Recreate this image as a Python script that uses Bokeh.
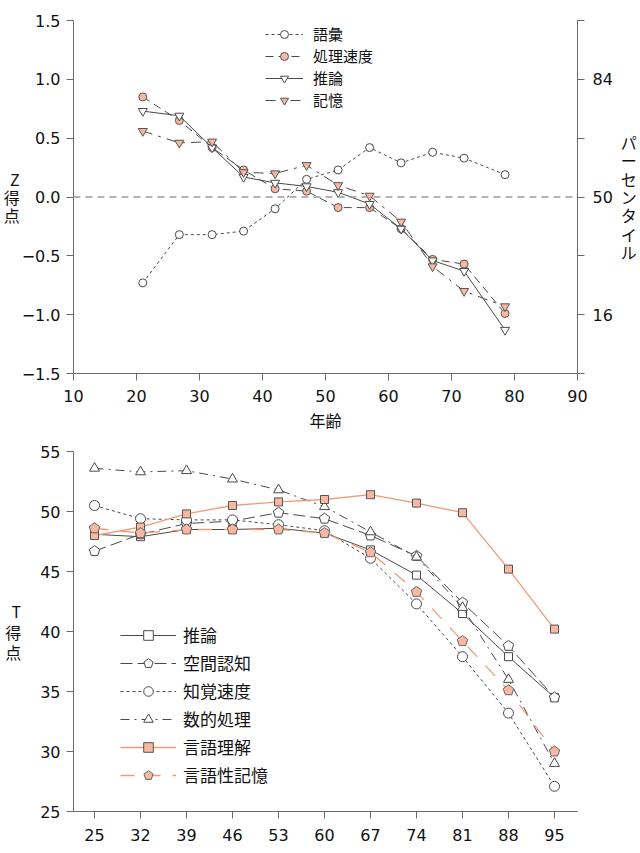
from bokeh.plotting import figure
from bokeh.models import (Range1d, LinearAxis, FixedTicker, Span, Legend, LegendItem)
from bokeh.layouts import column
from bokeh.embed import file_html
from bokeh.resources import INLINE

# ---------------- data: top chart (Z scores) ----------------
ages_top = [21, 26.8, 32, 37, 42, 47, 52, 57, 62, 67, 72, 78.5]
vocab = [-0.73, -0.32, -0.32, -0.29, -0.10, 0.15, 0.23, 0.42, 0.29, 0.38, 0.33, 0.19]
speed = [0.85, 0.65, 0.42, 0.23, 0.07, 0.05, -0.09, -0.09, -0.27, -0.53, -0.57, -0.99]
reason_top = [0.73, 0.69, 0.42, 0.17, 0.12, 0.09, 0.04, -0.06, -0.27, -0.54, -0.63, -1.13]
memory = [0.56, 0.46, 0.47, 0.21, 0.20, 0.27, 0.10, 0.01, -0.21, -0.59, -0.80, -0.93]
top_series_names = ["語彙", "処理速度", "推論", "記憶"]
z_ticks = [-1.5, -1.0, -0.5, 0.0, 0.5, 1.0, 1.5]
z_tick_labels = ["−1.5", "−1.0", "−0.5", "0.0", "0.5", "1.0", "1.5"]
pct_ticks = [-1.5, -1.0, -0.5, 0.0, 0.5, 1.0, 1.5]
pct_tick_labels = ["", "16", "", "50", "", "84", ""]
age_ticks_top = [10, 20, 30, 40, 50, 60, 70, 80, 90]

# ---------------- data: bottom chart (T scores) ----------------
ages_bot = [25, 32, 39, 46, 53, 60, 67, 74, 81, 88, 95]
reasoning = [48.1, 47.9, 48.5, 48.5, 48.6, 48.2, 46.8, 44.7, 41.5, 37.9, 34.5]
spatial = [46.7, 48.1, 49.0, 49.2, 49.9, 49.4, 48.0, 46.3, 42.4, 38.8, 34.5]
perceptual = [50.5, 49.4, 49.3, 49.3, 48.9, 48.4, 46.1, 42.3, 37.9, 33.2, 27.1]
numeric = [53.6, 53.3, 53.4, 52.7, 51.8, 50.4, 48.3, 46.2, 42.0, 36.0, 29.0]
verbal = [48.0, 48.7, 49.8, 50.5, 50.8, 51.0, 51.4, 50.7, 49.9, 45.2, 40.2]
verbal_memory = [48.6, 48.2, 48.5, 48.5, 48.5, 48.2, 46.6, 43.3, 39.2, 35.1, 30.0]
bot_series_names = ["推論", "空間認知", "知覚速度", "数的処理", "言語理解", "言語性記憶"]
t_ticks = [25, 30, 35, 40, 45, 50, 55]

DARK = "#4a4a4a"
AXIS = "#6a6a6a"
SALMON_FILL = "#f6b8a0"
SALMON_LINE = "#f09a78"
NUM_FONT = "DejaVu Sans"
JP_FONT = "Noto Sans CJK JP"


def style_axis(ax, size="16px"):
    ax.axis_line_color = AXIS
    ax.major_tick_line_color = AXIS
    ax.minor_tick_line_color = None
    ax.major_tick_out = 7
    ax.major_tick_in = 0
    ax.major_label_text_font = NUM_FONT
    ax.major_label_text_font_size = size
    ax.major_label_text_color = "#111111"


def stacked_label(ax, text, standoff, line_height):
    ax.axis_label_text_font = JP_FONT
    ax.axis_label_text_font_style = "normal"
    ax.axis_label_text_font_size = "16px"
    ax.axis_label_text_color = "#111111"
    try:
        ax.axis_label_orientation = "horizontal"
        ax.axis_label = text
        ax.axis_label_text_line_height = line_height
    except AttributeError:
        ax.axis_label = text.replace("\n", "")
    ax.axis_label_standoff = standoff


# ======================= TOP FIGURE =======================
p1 = figure(width=640, height=434, output_backend="svg", toolbar_location=None,
            x_range=Range1d(10, 90), y_range=Range1d(-1.5, 1.5),
            min_border_left=73, min_border_right=63, min_border_top=20, min_border_bottom=60)
p1.outline_line_color = None
p1.grid.visible = False
p1.background_fill_color = "white"

style_axis(p1.xaxis[0])
p1.xaxis[0].ticker = FixedTicker(ticks=age_ticks_top)
p1.xaxis[0].major_label_standoff = 9
p1.xaxis[0].axis_label = "年齢"
p1.xaxis[0].axis_label_text_font = JP_FONT
p1.xaxis[0].axis_label_text_font_style = "normal"
p1.xaxis[0].axis_label_text_font_size = "16px"
p1.xaxis[0].axis_label_text_color = "#111111"
p1.xaxis[0].axis_label_standoff = 3

style_axis(p1.yaxis[0])
p1.yaxis[0].ticker = FixedTicker(ticks=z_ticks)
p1.yaxis[0].major_label_overrides = {t: s for t, s in zip(z_ticks, z_tick_labels)}
p1.yaxis[0].major_label_standoff = 6
stacked_label(p1.yaxis[0], "Z\n得\n点", -1, 0.74)

rax = LinearAxis(ticker=FixedTicker(ticks=pct_ticks))
style_axis(rax)
rax.major_label_overrides = {t: s for t, s in zip(pct_ticks, pct_tick_labels)}
rax.major_label_standoff = 8
stacked_label(rax, "パ\nー\nセ\nン\nタ\nイ\nル", 5, 0.77)
p1.add_layout(rax, "right")

p1.add_layout(Span(location=0, dimension="width", line_color="#9a9a9a",
                   line_dash="7 5", line_width=1.6))

r_vocab_l = p1.line(ages_top, vocab, line_color=DARK, line_width=1, line_dash="3 3")
r_vocab_m = p1.scatter(ages_top, vocab, marker="circle", size=8, fill_color="white",
                       line_color=DARK, line_width=1)
r_speed_l = p1.line(ages_top, speed, line_color=DARK, line_width=1, line_dash="8 5")
r_speed_m = p1.scatter(ages_top, speed, marker="circle", size=8, fill_color=SALMON_FILL,
                       line_color="#555555", line_width=1)
r_reas_l = p1.line(ages_top, reason_top, line_color=DARK, line_width=1)
r_reas_m = p1.scatter(ages_top, reason_top, marker="inverted_triangle", size=9,
                      fill_color="white", line_color=DARK, line_width=1)
r_mem_l = p1.line(ages_top, memory, line_color=DARK, line_width=1, line_dash="10 6 3 6")
r_mem_m = p1.scatter(ages_top, memory, marker="inverted_triangle", size=9,
                     fill_color=SALMON_FILL, line_color="#555555", line_width=1)

leg1 = Legend(items=[
    LegendItem(label=top_series_names[0], renderers=[r_vocab_l, r_vocab_m]),
    LegendItem(label=top_series_names[1], renderers=[r_speed_l, r_speed_m]),
    LegendItem(label=top_series_names[2], renderers=[r_reas_l, r_reas_m]),
    LegendItem(label=top_series_names[3], renderers=[r_mem_l, r_mem_m]),
], location=(192, 263), orientation="vertical")
leg1.background_fill_alpha = 0
leg1.border_line_color = None
leg1.padding = 0
leg1.margin = 0
leg1.spacing = 1
leg1.glyph_width = 38
leg1.glyph_height = 20
leg1.label_height = 20
leg1.label_standoff = 10
leg1.label_text_font = JP_FONT
leg1.label_text_font_size = "15px"
leg1.label_text_color = "#111111"
p1.add_layout(leg1, "center")

# ======================= BOTTOM FIGURE =======================
p2 = figure(width=640, height=419, output_backend="svg", toolbar_location=None,
            x_range=Range1d(21.8, 98.5), y_range=Range1d(25, 55),
            min_border_left=73, min_border_right=10, min_border_top=17, min_border_bottom=42)
p2.outline_line_color = None
p2.grid.visible = False

style_axis(p2.xaxis[0])
p2.xaxis[0].ticker = FixedTicker(ticks=ages_bot)
p2.xaxis[0].major_label_standoff = 10
style_axis(p2.yaxis[0])
p2.yaxis[0].ticker = FixedTicker(ticks=t_ticks)
p2.yaxis[0].major_label_standoff = 6
stacked_label(p2.yaxis[0], "T\n得\n点", 16, 0.85)

rb = []
l = p2.line(ages_bot, reasoning, line_color=DARK, line_width=1)
m = p2.scatter(ages_bot, reasoning, marker="square", size=8, fill_color="white",
               line_color=DARK, line_width=1)
rb.append([l, m])
l = p2.line(ages_bot, spatial, line_color=DARK, line_width=1, line_dash="12 5")
m = p2.ngon(ages_bot, spatial, radius=5.5, radius_units="screen", n=5, fill_color="white",
            line_color=DARK, line_width=1)
rb.append([l, m])
l = p2.line(ages_bot, perceptual, line_color=DARK, line_width=1, line_dash="3 3")
m = p2.scatter(ages_bot, perceptual, marker="circle", size=10, fill_color="white",
               line_color=DARK, line_width=1)
rb.append([l, m])
l = p2.line(ages_bot, numeric, line_color=DARK, line_width=1, line_dash="9 5 2 5")
m = p2.scatter(ages_bot, numeric, marker="triangle", size=10, fill_color="white",
               line_color=DARK, line_width=1)
rb.append([l, m])
l = p2.line(ages_bot, verbal, line_color=SALMON_LINE, line_width=1.3)
m = p2.scatter(ages_bot, verbal, marker="square", size=8, fill_color=SALMON_FILL,
               line_color="#555555", line_width=1)
rb.append([l, m])
l = p2.line(ages_bot, verbal_memory, line_color=SALMON_LINE, line_width=1.3, line_dash="14 12")
m = p2.ngon(ages_bot, verbal_memory, radius=5.5, radius_units="screen", n=5,
            fill_color=SALMON_FILL, line_color="#666666", line_width=1)
rb.append([l, m])

leg2 = Legend(items=[LegendItem(label=n, renderers=r) for n, r in zip(bot_series_names, rb)],
              location=(47, 24), orientation="vertical")
leg2.background_fill_alpha = 0
leg2.border_line_color = None
leg2.padding = 0
leg2.margin = 0
leg2.spacing = 3
leg2.glyph_width = 56
leg2.glyph_height = 24
leg2.label_height = 24
leg2.label_standoff = 7
leg2.label_text_font = JP_FONT
leg2.label_text_font_size = "17px"
leg2.label_text_color = "#111111"
p2.add_layout(leg2, "center")

layout = column(p1, p2, spacing=0)
open("out.html", "w").write(file_html(layout, INLINE))
